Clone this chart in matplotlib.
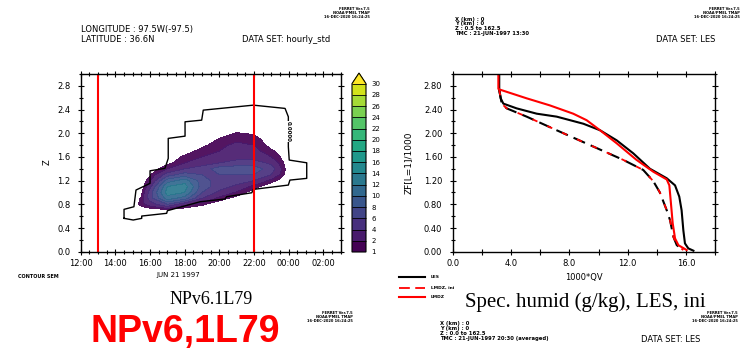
import numpy as np
import matplotlib
matplotlib.use('Agg')
import matplotlib.pyplot as plt
from matplotlib.colors import ListedColormap, BoundaryNorm
from matplotlib.ticker import MultipleLocator, FixedLocator, FuncFormatter

# ---------------- Left panel data (time-height std field) ----------------
hours = [15, 15.5, 16, 17, 18, 19, 20, 21, 22, 23, 24]
heights = [0.6, 0.7, 0.8, 0.9, 1.0, 1.1, 1.2, 1.3, 1.4, 1.5, 1.6, 1.7, 1.8, 1.9, 2.0, 2.1, 2.2]
std_grid = [
    [0, 0,   0,   0,    0,   0,   0,   0,   0,   0,   0],   # 0.6
    [0, 0,   0,   0.3,  0,   0,   0,   0,   0,   0,   0],   # 0.7
    [0, 1.5, 3,   6,    2.5, 1.2, 0.3, 0,   0,   0,   0],   # 0.8
    [0, 1.2, 5,   11,   9,   4,   1.5, 0.5, 0,   0,   0],   # 0.9
    [0, 0.6, 5,   13,   12,  6,   3.5, 1.8, 0.3, 0,   0],   # 1.0
    [0, 0,   3.5, 12,   13,  7,   5,   3.5, 1.5, 0,   0],   # 1.1
    [0, 0,   1.8, 9,    11,  7,   5,   5,   4,   1.5, 0],   # 1.2
    [0, 0,   0.8, 5,    7,   6,   6,   6,   6,   4,   0],   # 1.3
    [0, 0,   0,   2,    4,   5,   7,   7,   7,   5,   0],   # 1.4
    [0, 0,   0,   0.5,  2,   3,   4,   5,   5,   3.5, 0],   # 1.5
    [0, 0,   0,   0,    1.3, 2,   2.5, 3,   3,   2,   0],   # 1.6
    [0, 0,   0,   0,    0.3, 1.5, 2,   2.5, 2.5, 1.2, 0],   # 1.7
    [0, 0,   0,   0,    0,   0.6, 1.8, 2.2, 2,   0.5, 0],   # 1.8
    [0, 0,   0,   0,    0,   0,   1.1, 1.8, 1.6, 0,   0],   # 1.9
    [0, 0,   0,   0,    0,   0,   0.2, 1.1, 0.8, 0,   0],   # 2.0
    [0, 0,   0,   0,    0,   0,   0,   0,   0,   0,   0],   # 2.1
    [0, 0,   0,   0,    0,   0,   0,   0,   0,   0,   0],   # 2.2
]
levels = [1, 2, 4, 6, 8, 10, 12, 14, 16, 18, 20, 22, 24, 26, 28, 30]
level_labels = [str(v) for v in levels]

outline_t = [14.50, 14.50, 15.07, 15.19, 16.00, 16.00, 16.86, 17.05, 17.05, 18.02,
             18.02, 18.98, 19.07, 21.96, 23.79, 23.98, 23.98, 24.03, 25.04, 25.04,
             24.07, 23.98, 21.96, 21.87, 20.42, 20.32, 18.88, 17.00, 16.96, 15.52,
             15.52, 15.03, 14.50]
outline_z = [0.563, 0.715, 0.759, 1.041, 1.154, 1.366, 1.407, 1.575, 1.913, 1.951,
             2.193, 2.221, 2.390, 2.474, 2.419, 2.277, 1.771, 1.547, 1.501, 1.238,
             1.209, 1.125, 1.052, 0.995, 0.928, 0.889, 0.843, 0.692, 0.648, 0.602,
             0.563, 0.535, 0.563]
red_times = [13, 22]
xticks_left = [12, 14, 16, 18, 20, 22, 24, 26]
xticklabels_left = ['12:00', '14:00', '16:00', '18:00', '20:00', '22:00', '00:00', '02:00']

# ---------------- Right panel data (profiles) ----------------
les_q = [3.19, 3.19, 3.29, 3.47, 4.38, 5.76, 7.13, 8.96, 10.1, 11.24, 12.38, 13.52,
         14.67, 15.24, 15.53, 15.69, 15.81, 15.92, 16.15, 16.5]
les_z = [3.00, 2.73, 2.59, 2.50, 2.42, 2.33, 2.28, 2.16, 2.05, 1.88, 1.66, 1.40,
         1.24, 1.12, 0.93, 0.70, 0.36, 0.14, 0.056, 0.017]
lmdz_q = [3.13, 3.13, 3.19, 5.06, 6.66, 8.26, 9.18, 10.1, 11.24, 12.6, 13.75, 14.67,
          14.85, 14.96, 15.08, 15.24, 15.47, 16.04]
lmdz_z = [3.00, 2.75, 2.74, 2.59, 2.47, 2.33, 2.22, 2.05, 1.83, 1.55, 1.35, 1.22,
          1.12, 0.815, 0.48, 0.225, 0.11, 0.028]
ini_q = [3.19, 3.36, 3.70, 5.07, 7.13, 9.41, 11.69, 13.06, 13.75, 14.2, 14.67, 14.9,
         15.13, 15.36, 15.81]
ini_z = [2.73, 2.50, 2.42, 2.28, 2.05, 1.80, 1.55, 1.38, 1.19, 1.0, 0.70, 0.53,
         0.25, 0.11, 0.028]
legend_labels = ['LES', 'LMDZ, ini', 'LMDZ']

# ---------------- Figure ----------------
W, H = 744, 350
fig = plt.figure(figsize=(W / 100, H / 100), dpi=100)
fig.patch.set_facecolor('white')


def fx(x):
    return x / W


def fy(y):
    return 1 - y / H


def txt(x, y, s, **kw):
    fig.text(fx(x), fy(y), s, **kw)


def style_axes(ax):
    for sp in ax.spines.values():
        sp.set_linewidth(1.0)
    ax.tick_params(which='major', direction='inout', length=5, width=0.8,
                   top=True, right=True, labelsize=6, pad=3)
    ax.tick_params(which='minor', direction='inout', length=3, width=0.8,
                   top=True, right=True)


# Left axes
axL = fig.add_axes([fx(80.7), fy(251.7), fx(340.7 - 80.7), (251.7 - 74) / H])
base = plt.get_cmap('viridis')
cols = [base(v) for v in np.linspace(0, 1, 16)]
cmap = ListedColormap(cols[:15])
cmap.set_over(cols[15])
norm = BoundaryNorm(levels, cmap.N)
axL.contourf(hours, heights, np.array(std_grid), levels=levels, cmap=cmap,
             norm=norm, extend='max', alpha=0.92)
axL.plot(outline_t, outline_z, color='black', lw=1.0)
axL.text(23.98, 2.03, '0.0000', rotation=-90, fontsize=4, ha='center', va='center',
         fontweight='bold',
         bbox=dict(facecolor='white', edgecolor='none', pad=0.3))
for t in red_times:
    axL.axvline(t, color='red', lw=1.5)
axL.set_xlim(12, 27)
axL.set_ylim(0, 3.0)
axL.xaxis.set_major_locator(FixedLocator(xticks_left))
axL.set_xticklabels(xticklabels_left)
axL.xaxis.set_minor_locator(MultipleLocator(0.5))
axL.yaxis.set_major_locator(MultipleLocator(0.4))
axL.yaxis.set_minor_locator(MultipleLocator(0.2))
axL.yaxis.set_major_formatter(FuncFormatter(lambda v, p: '%.1f' % v))
style_axes(axL)
axL.tick_params(axis='y', pad=5)
axL.set_ylim(0, 3.0)

# Colorbar
cax = fig.add_axes([fx(352), fy(252), fx(14), (252 - 73) / H])
sm = matplotlib.cm.ScalarMappable(norm=norm, cmap=cmap)
cb = fig.colorbar(sm, cax=cax, extend='max', extendfrac=0.063, drawedges=True,
                  ticks=levels)
cb.outline.set_linewidth(0.8)
cb.dividers.set_linewidth(0.6)
cb.ax.set_yticklabels(level_labels)
cb.ax.tick_params(length=0, labelsize=5, pad=4)

# Right axes
axR = fig.add_axes([fx(452.7), fy(251.7), fx(262.6), (251.7 - 74) / H])
axR.plot(les_q, les_z, color='black', lw=1.5, label=legend_labels[0])
axR.plot(ini_q, ini_z, color='black', lw=1.5, dashes=(6, 3))
axR.plot(ini_q, ini_z, color='red', lw=1.3, dashes=(3, 6), label=legend_labels[1])
axR.plot(lmdz_q, lmdz_z, color='red', lw=1.5, label=legend_labels[2])
axR.set_xlim(0, 18)
axR.set_ylim(0, 3.0)
axR.xaxis.set_major_locator(MultipleLocator(4))
axR.xaxis.set_minor_locator(MultipleLocator(2))
axR.xaxis.set_major_formatter(FuncFormatter(lambda v, p: '%.1f' % v))
axR.yaxis.set_major_locator(MultipleLocator(0.4))
axR.yaxis.set_minor_locator(MultipleLocator(0.2))
axR.yaxis.set_major_formatter(FuncFormatter(lambda v, p: '%.2f' % v))
style_axes(axR)
axR.tick_params(which='minor', axis='x', length=5)
axR.tick_params(axis='y', pad=5)
axR.set_ylabel('ZF[L=1]/1000', fontsize=6.5, labelpad=8)
axR.set_xlabel('1000*QV', fontsize=6, labelpad=3)

# Legend (manual, figure-level)
leg_y = [276.7, 288.3, 296.7]
leg_style = [dict(color='black', lw=1.5),
             dict(color='red', lw=1.3, dashes=(6, 3)),
             dict(color='red', lw=1.5)]
for yy, st, lab in zip(leg_y, leg_style, legend_labels):
    fig.add_artist(matplotlib.lines.Line2D([fx(399), fx(425)], [fy(yy), fy(yy)],
                                           transform=fig.transFigure, **st))
    txt(431, yy, lab, fontsize=3.2, fontweight='bold', va='center', ha='left')

# ---------------- Texts ----------------
txt(80.7, 29.3, 'LONGITUDE : 97.5W(-97.5)', fontsize=6, va='center')
txt(80.7, 40, 'LATITUDE : 36.6N', fontsize=6, va='center')
txt(241.7, 39, 'DATA SET: hourly_std', fontsize=6, va='center')
stamp = 'FERRET Ver.7.5\nNOAA/PMEL TMAP\n16-DEC-2020 16:24:25'
txt(370, 13, stamp, fontsize=2.6, fontweight='bold', ha='right', va='center',
    multialignment='right', linespacing=1.0)
txt(740, 13, stamp, fontsize=2.6, fontweight='bold', ha='right', va='center',
    multialignment='right', linespacing=1.0)
txt(353, 317, stamp, fontsize=2.6, fontweight='bold', ha='right', va='center',
    multialignment='right', linespacing=1.0)
txt(738, 317, stamp, fontsize=2.6, fontweight='bold', ha='right', va='center',
    multialignment='right', linespacing=1.0)
txt(47, 162, 'Z', fontsize=6, rotation=90, ha='center', va='center')
txt(178, 275, 'JUN 21 1997', fontsize=5, ha='center', va='center')
txt(18, 277, 'CONTOUR SEM', fontsize=3.5, fontweight='bold', ha='left', va='center')
txt(211, 300, 'NPv6.1L79', fontsize=13, family='Liberation Serif', ha='center',
    va='center')
txt(185, 332, 'NPv6,1L79', fontsize=27, family='Liberation Sans', fontweight='bold',
    color='red', ha='center', va='center')

txt(455, 26.5, 'X (km) : 0\nY (km) : 0\nZ : 0.5 to 162.5\nTMC : 21-JUN-1997 13:30',
    fontsize=3.8, fontweight='bold', ha='left', va='center', linespacing=1.0)
txt(715.3, 40, 'DATA SET: LES', fontsize=6, ha='right', va='center')
txt(585, 301.7, 'Spec. humid (g/kg), LES, ini', fontsize=15, family='Liberation Serif',
    ha='center', va='center')
txt(440, 331, 'X (km) : 0\nY (km) : 0\nZ : 0.0 to 162.5\nTMC : 21-JUN-1997 20:30 (averaged)',
    fontsize=3.8, fontweight='bold', ha='left', va='center', linespacing=1.0)
txt(700, 340, 'DATA SET: LES', fontsize=6, ha='right', va='center')

fig.savefig('out.png', dpi=100, facecolor='white')
